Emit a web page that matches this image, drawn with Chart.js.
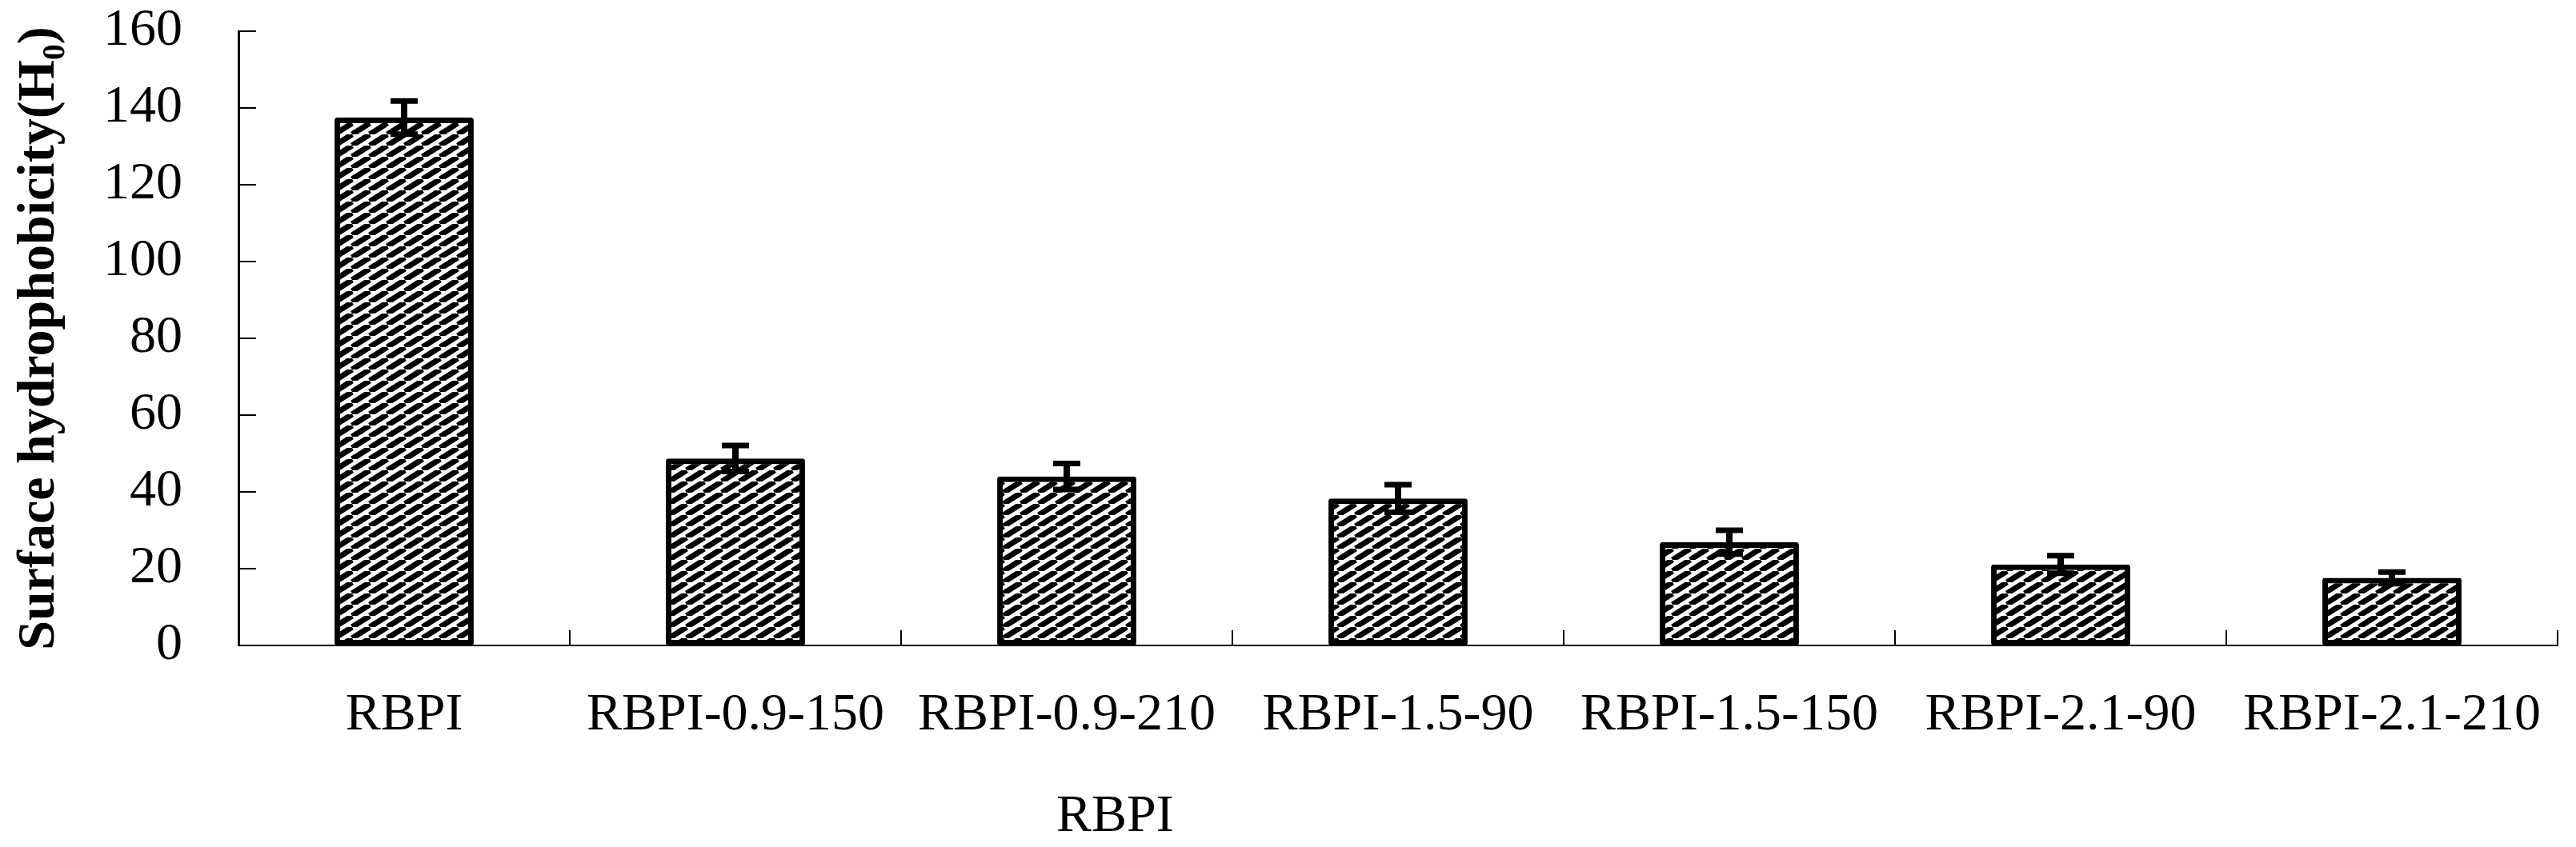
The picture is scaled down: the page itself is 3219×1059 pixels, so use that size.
<!DOCTYPE html>
<html>
<head>
<meta charset="utf-8">
<script src="https://cdn.jsdelivr.net/npm/chart.js@4.4.0/dist/chart.umd.min.js"></script>
<style>
  html, body { margin: 0; padding: 0; background: #fff; }
  #wrap { width: 3219px; height: 1059px; }
</style>
</head>
<body>
<div id="wrap"><canvas id="myChart" width="3219" height="1059"></canvas></div>
<script>
// values
const categories = ['RBPI', 'RBPI-0.9-150', 'RBPI-0.9-210', 'RBPI-1.5-90', 'RBPI-1.5-150', 'RBPI-2.1-90', 'RBPI-2.1-210'];
const hydrophobicity = [137.5, 48.7, 44.0, 38.3, 26.9, 21.1, 17.6];
const errors = [4.3, 3.4, 3.4, 3.6, 3.1, 2.3, 1.5];
const yTicks = [0, 20, 40, 60, 80, 100, 120, 140, 160];

const FONT = "'Liberation Serif', 'Times New Roman', serif";

// diagonal stripe fill like the original
function stripes() {
    const w = 22, h = 14;
    const c = document.createElement('canvas');
    c.width = w; c.height = h;
    const g = c.getContext('2d');
    g.fillStyle = '#fff';
    g.fillRect(0, 0, w, h);
    g.strokeStyle = '#000';
    g.lineWidth = 7;
    for (let k = -1; k <= 1; k++) {
        g.beginPath();
        g.moveTo(k * w, h);
        g.lineTo(k * w + w, 0);
        g.stroke();
    }
    return document.getElementById('myChart').getContext('2d').createPattern(c, 'repeat');
}

// error bars + inward ticks + x title
const extras = {
    id: 'extras',
    afterDatasetsDraw(chart) {
        const ctx = chart.ctx;
        const y = chart.scales.y;
        const bars = chart.getDatasetMeta(0).data;
        ctx.save();
        ctx.strokeStyle = '#000';
        ctx.lineCap = 'butt';
        bars.forEach((bar, i) => {
            const top = y.getPixelForValue(hydrophobicity[i] + errors[i]);
            const bot = y.getPixelForValue(hydrophobicity[i] - errors[i]);
            ctx.lineWidth = 8;
            ctx.beginPath();
            ctx.moveTo(bar.x, top);
            ctx.lineTo(bar.x, bot);
            ctx.stroke();
            ctx.lineWidth = 7;
            ctx.beginPath();
            ctx.moveTo(bar.x - 17, top);
            ctx.lineTo(bar.x + 17, top);
            ctx.moveTo(bar.x - 17, bot);
            ctx.lineTo(bar.x + 17, bot);
            ctx.stroke();
        });
        ctx.restore();
    },
    afterDraw(chart) {
        const ctx = chart.ctx;
        const x = chart.scales.x;
        const y = chart.scales.y;
        const area = chart.chartArea;
        ctx.save();
        ctx.strokeStyle = '#000';
        ctx.lineWidth = 2;
        ctx.beginPath();
        yTicks.forEach(v => {
            const py = Math.round(y.getPixelForValue(v));
            ctx.moveTo(area.left, py);
            ctx.lineTo(area.left + 22, py);
        });
        const step = x.getPixelForValue(1) - x.getPixelForValue(0);
        categories.forEach((c, i) => {
            const px = Math.round(x.getPixelForValue(i) + step / 2);
            ctx.moveTo(px, area.bottom);
            ctx.lineTo(px, area.bottom - 19);
        });
        ctx.stroke();

        ctx.fillStyle = '#000';
        ctx.font = '66px ' + FONT;
        ctx.textAlign = 'center';
        ctx.textBaseline = 'middle';
        ctx.fillText('RBPI', area.left + (area.right - area.left) * 0.378, chart.height - 37);
        ctx.restore();
    }
};

const ctx = document.getElementById('myChart');
const myChart = new Chart(ctx, {
    type: 'bar',
    data: {
        labels: categories,
        datasets: [{
            label: 'Surface hydrophobicity',
            data: hydrophobicity,
            backgroundColor: stripes(),
            borderColor: '#000',
            borderWidth: 7,
            borderRadius: 3,
            borderSkipped: false,
            barPercentage: 0.42,
            categoryPercentage: 1
        }]
    },
    options: {
        responsive: false,
        animation: false,
        layout: { padding: { top: 39, right: 23, left: 0, bottom: 0 } },
        plugins: {
            legend: { display: false },
            tooltip: { enabled: false }
        },
        scales: {
            x: {
                offset: true,
                grid: { display: false },
                border: { display: true, color: '#000', width: 2 },
                ticks: {
                    color: '#000',
                    font: { family: FONT, size: 66 },
                    padding: 40,
                    maxRotation: 0,
                    autoSkip: false
                },
                afterFit: s => { s.height = 252; }
            },
            y: {
                min: 0,
                max: 160,
                grid: { display: false },
                border: { display: true, color: '#000', width: 3 },
                ticks: {
                    stepSize: 20,
                    color: '#000',
                    font: { family: FONT, size: 66 },
                    padding: 62
                },
                title: {
                    display: true,
                    text: 'Surface hydrophobicity(H\u2080)',
                    color: '#000',
                    font: { family: FONT, size: 66, weight: 'bold' },
                    padding: { top: 10, bottom: 0 }
                },
                afterFit: s => {
                    s.width = 298;
                    s.paddingTop = 0;
                    s.paddingBottom = 0;
                }
            }
        }
    },
    plugins: [extras]
});
</script>
</body>
</html>
